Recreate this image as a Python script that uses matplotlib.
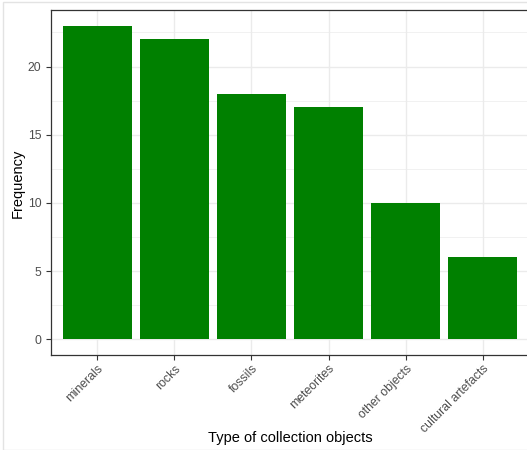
import matplotlib.pyplot as plt
from matplotlib.patches import Rectangle
from matplotlib.ticker import MultipleLocator

plt.rcParams['font.family'] = ['Liberation Sans', 'DejaVu Sans']

# data
categories = ['minerals', 'rocks', 'fossils', 'meteorites', 'other objects', 'cultural artefacts']
frequency = [23, 22, 18, 17, 10, 6]

fig = plt.figure(figsize=(5.27, 4.5), dpi=100)
# ggplot-like panel, right edge runs slightly past the image
ax = fig.add_axes([51 / 527, 1 - 355 / 450, 478 / 527, 345 / 450])

x = list(range(1, len(categories) + 1))
ax.bar(x, frequency, width=0.9, color='#008000', zorder=3)

ax.set_xlim(0.4, len(categories) + 0.6)
ax.set_ylim(-1.15, 24.15)
ax.set_xticks(x)
ax.set_xticklabels(categories, rotation=45, ha='right', rotation_mode='anchor',
                   fontsize=8.8, color='#4d4d4d')
ax.yaxis.set_major_locator(MultipleLocator(5))
ax.yaxis.set_minor_locator(MultipleLocator(2.5))
ax.tick_params(axis='y', labelsize=8.8, labelcolor='#4d4d4d', color='#333333',
               length=3.5, width=0.8)
ax.tick_params(axis='x', color='#333333', length=3.5, width=0.8, pad=2)
ax.tick_params(axis='y', which='minor', length=0)

ax.grid(which='major', color='#ebebeb', linewidth=1.0, zorder=0)
ax.grid(which='minor', axis='y', color='#ebebeb', linewidth=0.5, zorder=0)
ax.set_axisbelow(True)
for s in ax.spines.values():
    s.set_color('#333333')
    s.set_linewidth(0.9)

ax.set_xlabel('Type of collection objects', fontsize=10.5, va='center')
ax.set_ylabel('Frequency', fontsize=10.5, va='center')
ax.xaxis.set_label_coords((290 - 51) / 478, (355 - 438) / 345)
ax.yaxis.set_label_coords((18 - 51) / 478, (355 - 183) / 345)

# faint frame of the screenshot
fig.add_artist(Rectangle((3 / 527, 0), 1.0, 1 - 2 / 450, transform=fig.transFigure,
                         fill=False, edgecolor='#e3e3e3', linewidth=1.0))

fig.savefig('out.png', dpi=100)
